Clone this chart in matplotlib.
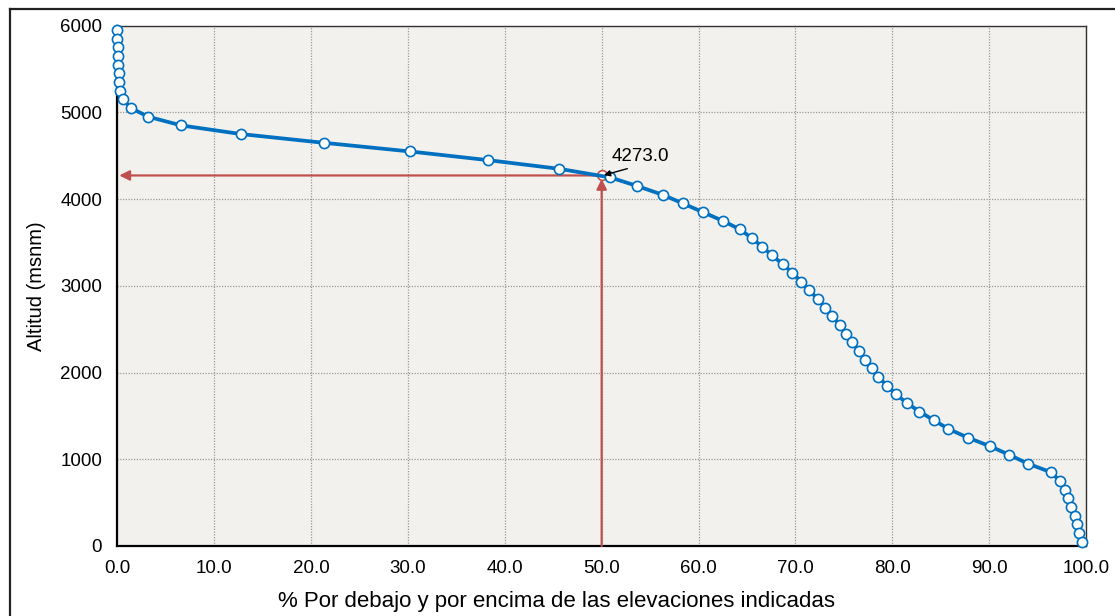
import matplotlib
matplotlib.use("Agg")
import matplotlib.pyplot as plt
from matplotlib.lines import Line2D
from matplotlib.ticker import MultipleLocator, FormatStrFormatter

plt.rcParams['font.family'] = ['Liberation Sans', 'DejaVu Sans']

# Elevation band midpoints (msnm)
altitudes = [5950, 5850, 5750, 5650, 5550, 5450, 5350, 5250, 5150, 5050,
             4950, 4850, 4750, 4650, 4550, 4450, 4350, 4250, 4150, 4050,
             3950, 3850, 3750, 3650, 3550, 3450, 3350, 3250, 3150, 3050,
             2950, 2850, 2750, 2650, 2550, 2450, 2350, 2250, 2150, 2050,
             1950, 1850, 1750, 1650, 1550, 1450, 1350, 1250, 1150, 1050,
             950, 850, 750, 650, 550, 450, 350, 250, 150, 50]
# % of area above each elevation
pct_area = [0.0, 0.0, 0.04, 0.07, 0.1, 0.14, 0.2, 0.3, 0.6, 1.4,
            3.2, 6.6, 12.8, 21.3, 30.2, 38.25, 45.6, 50.9, 53.7, 56.3,
            58.4, 60.45, 62.5, 64.3, 65.5, 66.6, 67.6, 68.7, 69.7, 70.6,
            71.4, 72.3, 73.1, 73.8, 74.6, 75.2, 75.8, 76.6, 77.2, 77.9,
            78.5, 79.5, 80.35, 81.5, 82.8, 84.3, 85.8, 87.8, 90.1, 92.1,
            94.0, 96.4, 97.3, 97.8, 98.1, 98.5, 98.9, 99.1, 99.3, 99.6]
median_pct = 50.0
median_alt = 4273.0
median_label = "4273.0"

W, H = 1115, 616
fig = plt.figure(figsize=(W / 100, H / 100), dpi=100)
fig.patch.set_facecolor('white')

# outer chart frame (top and left visible)
fig.add_artist(Line2D([10 / W, 1.0], [1 - 8.5 / H, 1 - 8.5 / H], color='#222222', lw=1.6))
fig.add_artist(Line2D([10 / W, 10 / W], [0.0, 1 - 8.5 / H], color='#222222', lw=1.6))

ax = fig.add_axes([117.3 / W, 1 - 546 / H, (1086 - 117.3) / W, (546 - 25.7) / H])
ax.set_facecolor('#f2f1ed')

ax.set_xlim(0, 100)
ax.set_ylim(0, 6000)
ax.xaxis.set_major_locator(MultipleLocator(10))
ax.yaxis.set_major_locator(MultipleLocator(1000))
ax.xaxis.set_major_formatter(FormatStrFormatter('%.1f'))
ax.tick_params(axis='both', length=0, labelsize=13.5, colors='black')
ax.tick_params(axis='x', pad=10)
ax.tick_params(axis='y', pad=11)
ax.grid(True, color='#9a9a9a', linestyle=(0, (1, 1.2)), linewidth=0.9)
ax.set_axisbelow(True)

for side in ['left', 'bottom']:
    ax.spines[side].set_linewidth(1.6)
    ax.spines[side].set_color('black')
for side in ['top', 'right']:
    ax.spines[side].set_linewidth(1.0)
    ax.spines[side].set_color('#333333')

# red guide arrows
red = '#c0504d'
ax.annotate('', xy=(0.2, median_alt), xytext=(median_pct, median_alt),
            arrowprops=dict(arrowstyle='-|>', color=red, lw=1.6,
                            mutation_scale=15, shrinkA=0, shrinkB=0))
ax.annotate('', xy=(median_pct, median_alt - 40), xytext=(median_pct, 0),
            arrowprops=dict(arrowstyle='-|>', color=red, lw=1.6,
                            mutation_scale=15, shrinkA=0, shrinkB=0))
ax.plot([median_pct], [median_alt], marker='o', markersize=7,
        markerfacecolor='white', markeredgecolor=red, markeredgewidth=1.2,
        linestyle='none', zorder=3)

# curve
ax.plot(pct_area, altitudes, color='#0070c0', lw=2.7, marker='o',
        markersize=7.3, markerfacecolor='white', markeredgecolor='#0070c0',
        markeredgewidth=1.2, clip_on=False, zorder=4)

# median annotation
ax.annotate(median_label, xy=(median_pct + 0.1, median_alt),
            xytext=(51.0, 4490), fontsize=13.5, va='center', ha='left',
            arrowprops=dict(arrowstyle='-|>', color='black', lw=1.0,
                            mutation_scale=9, shrinkA=2, shrinkB=1,
                            relpos=(0.5, 0.0)),
            zorder=5)

ax.set_ylabel('Altitud (msnm)', fontsize=14.5, labelpad=10)
fig.text(556 / W, 1 - 601 / H,
         '% Por debajo y por encima de las elevaciones indicadas',
         fontsize=16, ha='center', va='center')

fig.savefig('out.png', dpi=100)
